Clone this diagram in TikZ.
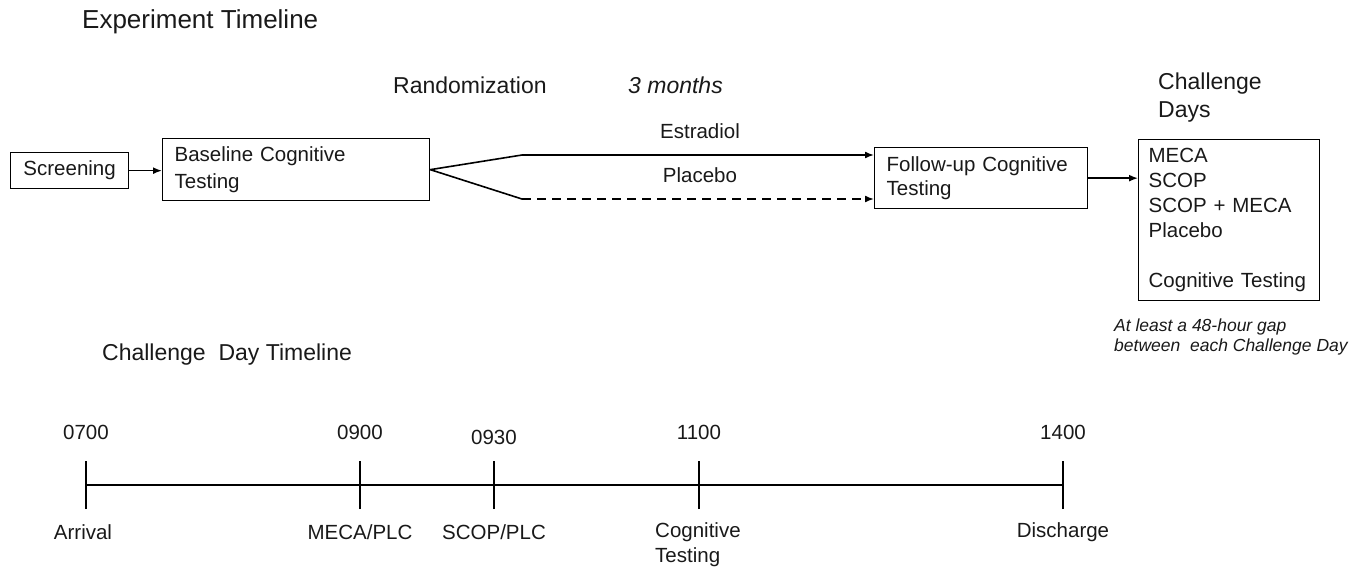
\documentclass[tikz,border=0pt]{standalone}
\usepackage{fontspec}
\setmainfont{Liberation Sans}
\usetikzlibrary{arrows.meta,positioning}
\begin{document}
\begin{tikzpicture}[x=1pt,y=-1pt,
  every node/.style={font=\fontsize{20.5}{25}\selectfont, text=black!90},
  lbl/.style={inner sep=0pt},
  big/.style={inner sep=0pt, font=\fontsize{23}{28}\selectfont},
  box/.style={draw, line width=1.3pt, anchor=north west, inner sep=0pt},
  arr/.style={line width=1.6pt, -{Latex[length=9pt,width=7pt]}},
  tl/.style={line width=2.6pt},
  note/.style={font=\fontsize{17.5}{20.5}\selectfont\itshape, inner sep=0pt, anchor=west, align=left}
]
\useasboundingbox (0,0) rectangle (1368,574);

% titles
\node[lbl, anchor=west, font=\fontsize{26}{30}\selectfont] (title) at (82,22) {Experiment Timeline};
\node[big, anchor=west] (rand) at (393,85) {Randomization};
\node[big, anchor=west, font=\fontsize{23}{28}\selectfont\itshape] (months) at (628,85) {3 months};
\node[big, anchor=west, align=left] (cdays) at (1158,98) {Challenge\\Days};

% boxes
\node[box, minimum width=118pt, minimum height=36pt] (scr) at (10,152) {Screening};
\node[box, minimum width=267pt, minimum height=62pt, align=left, text width=243pt, inner xsep=12pt, font=\fontsize{20.5}{27}\selectfont] (bl) at (162,138) {Baseline Cognitive\\Testing};
\node[box, minimum width=213pt, minimum height=61pt, align=left, text width=189pt, inner xsep=12pt, font=\fontsize{20.5}{24}\selectfont] (fu) at (874,147) {Follow-up Cognitive\\Testing};
\node[box, minimum width=181pt, minimum height=161pt, align=left, text width=161pt, inner xsep=10pt] (cd) at (1138,139) {MECA\\SCOP\\SCOP + MECA\\Placebo\\[25pt]Cognitive Testing};

% arm labels
\node[lbl] (estr) at (700,131) {Estradiol};
\node[lbl] (plac) at (700,175) {Placebo};

% connectors
\draw[arr] (scr.east) -- (bl.west |- scr.east);
\coordinate (k1) at (522,155);
\coordinate (k2) at (522,199);
\draw[arr] (bl.east) -- (k1) -- (k1 -| fu.west);
\draw[line width=1.6pt] (bl.east) -- (k2);
\draw[arr, dash pattern=on 9pt off 6pt] (k2) -- (k2 -| fu.west);
\draw[arr] (fu.east) -- (fu.east -| cd.west);

% note
\node[note] (gap) at (1114,337) {At least a 48-hour gap\\between\ \ each Challenge Day};

% challenge day timeline
\node[big, anchor=west] (cdt) at (102,355) {Challenge\ \ Day Timeline};

\coordinate (t1) at (86,485);
\coordinate (t2) at (360,485);
\coordinate (t3) at (494,485);
\coordinate (t4) at (699,485);
\coordinate (t5) at (1063,485);
\draw[tl] (t1) -- (t5);
\foreach \t in {t1,t2,t3,t4,t5} {
  \draw[tl] ([yshift=-24pt]\t) -- ([yshift=24pt]\t);
}

\node[lbl] (h1) at (86,432) {0700};
\node[lbl] (h2) at (360,432) {0900};
\node[lbl] (h3) at (494,437) {0930};
\node[lbl] (h4) at (699,432) {1100};
\node[lbl] (h5) at (1063,432) {1400};

\node[lbl] (e1) at (83,532) {Arrival};
\node[lbl] (e2) at (360,532) {MECA/PLC};
\node[lbl] (e3) at (494,532) {SCOP/PLC};
\node[lbl, anchor=west, align=left] (e4) at (655,544.5) {Cognitive\\Testing};
\node[lbl] (e5) at (1063,532) {Discharge};
\end{tikzpicture}
\end{document}
